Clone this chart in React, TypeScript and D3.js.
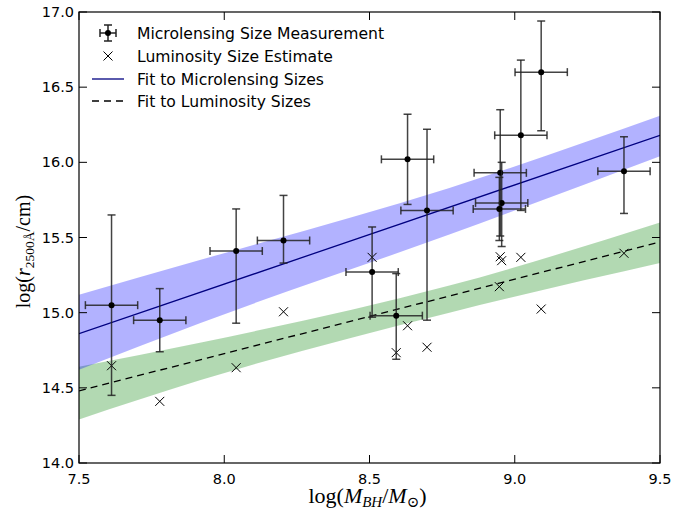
import React from "react";
import * as d3 from "d3";

// Microlensing size measurements
const mlX = [7.612, 7.778, 8.041, 8.204, 8.509, 8.592, 8.631, 8.698, 8.95, 8.955, 8.947, 9.021, 9.091, 9.376];
const mlY = [15.05, 14.95, 15.41, 15.48, 15.27, 14.98, 16.02, 15.68, 15.93, 15.73, 15.69, 16.18, 16.6, 15.94];
const mlYErrLo = [0.6, 0.21, 0.48, 0.15, 0.3, 0.29, 0.3, 0.73, 0.42, 0.29, 0.21, 0.5, 0.39, 0.28];
const mlYErrHi = [0.6, 0.21, 0.28, 0.3, 0.3, 0.28, 0.3, 0.54, 0.42, 0.27, 0.21, 0.5, 0.34, 0.23];
const mlXErr = [0.09, 0.09, 0.09, 0.09, 0.09, 0.09, 0.09, 0.09, 0.09, 0.09, 0.09, 0.09, 0.09, 0.09];

// Luminosity size estimates
const lumX = [7.612, 7.778, 8.041, 8.204, 8.509, 8.592, 8.631, 8.698, 8.95, 8.955, 8.947, 9.021, 9.091, 9.376];
const lumY = [14.647, 14.41, 14.634, 15.006, 15.368, 14.734, 14.913, 14.77, 15.372, 15.346, 15.173, 15.368, 15.024, 15.395];

// Fits (endpoints) and confidence bands
const fitX = [7.5, 9.5];
const mlFitY = [14.86, 16.18];
const lumFitY = [14.48, 15.47];
const bandX = [7.5, 7.916, 8.775, 9.5];
const mlBandHi = [15.12, 15.35, 15.83, 16.31];
const mlBandLo = [14.62, 14.93, 15.52, 16.04];
const lumBandHi = [14.64, 14.8, 15.18, 15.6];
const lumBandLo = [14.29, 14.55, 15.0, 15.33];

const xTicks = [7.5, 8.0, 8.5, 9.0, 9.5];
const yTicks = [14.0, 14.5, 15.0, 15.5, 16.0, 16.5, 17.0];

const W = 691;
const H = 510;
const L = 79, R = 660, T = 12, B = 463;

export default function App() {
  const x = d3.scaleLinear().domain([7.5, 9.5]).range([L, R]);
  const y = d3.scaleLinear().domain([14, 17]).range([B, T]);

  const band = (hi: number[], lo: number[]) =>
    d3
      .area<number>()
      .curve(d3.curveMonotoneX)
      .x((_, i) => x(bandX[i]))
      .y0((_, i) => y(lo[i]))
      .y1((_, i) => y(hi[i]))(bandX) || "";

  const line = (ys: number[]) =>
    d3
      .line<number>()
      .x((d) => x(d))
      .y((_, i) => y(ys[i]))(fitX) || "";

  const cap = 4;
  const ecol = "#222";
  const font = "'DejaVu Sans', sans-serif";
  const serif = "'Liberation Serif', 'DejaVu Serif', serif";

  const cross = (cx: number, cy: number, s: number, key: string) => (
    <g key={key} stroke="#000" strokeWidth={1}>
      <line x1={cx - s} y1={cy - s} x2={cx + s} y2={cy + s} />
      <line x1={cx - s} y1={cy + s} x2={cx + s} y2={cy - s} />
    </g>
  );

  return (
    <div style={{ position: "absolute", left: 0, top: 0 }}>
      <svg width={W} height={H} style={{ display: "block", background: "#fff" }}>
        <rect x={0} y={0} width={W} height={H} fill="#fff" />
        <defs>
          <clipPath id="plot">
            <rect x={L} y={T} width={R - L} height={B - T} />
          </clipPath>
        </defs>
        <g clipPath="url(#plot)">
          <path d={band(lumBandHi, lumBandLo)} fill="rgb(0,128,0)" fillOpacity={0.3} />
          <path d={band(mlBandHi, mlBandLo)} fill="rgb(0,0,255)" fillOpacity={0.3} />
          <path d={line(mlFitY)} stroke="#000080" strokeWidth={1.3} fill="none" />
          <path d={line(lumFitY)} stroke="#000" strokeWidth={1.3} fill="none" strokeDasharray="7,5" />
          {lumX.map((v, i) => cross(x(v), y(lumY[i]), 4.5, "l" + i))}
          {mlX.map((v, i) => {
            const cx = x(v);
            const cy = y(mlY[i]);
            const x0 = x(v - mlXErr[i]);
            const x1 = x(v + mlXErr[i]);
            const y0 = y(mlY[i] - mlYErrLo[i]);
            const y1 = y(mlY[i] + mlYErrHi[i]);
            return (
              <g key={"m" + i} stroke={ecol} strokeWidth={1.5} strokeOpacity={0.85}>
                <line x1={cx} y1={y0} x2={cx} y2={y1} />
                <line x1={x0} y1={cy} x2={x1} y2={cy} />
                <line x1={cx - cap} y1={y0} x2={cx + cap} y2={y0} />
                <line x1={cx - cap} y1={y1} x2={cx + cap} y2={y1} />
                <line x1={x0} y1={cy - cap} x2={x0} y2={cy + cap} />
                <line x1={x1} y1={cy - cap} x2={x1} y2={cy + cap} />
                <circle cx={cx} cy={cy} r={3} fill="#000" stroke="none" />
              </g>
            );
          })}
        </g>

        {/* Frame */}
        <rect x={L} y={T} width={R - L} height={B - T} fill="none" stroke="#000" strokeWidth={1.2} />

        {/* Ticks */}
        {xTicks.map((t) => (
          <g key={"xt" + t}>
            <line x1={x(t)} x2={x(t)} y1={B} y2={B - 8} stroke="#000" />
            <line x1={x(t)} x2={x(t)} y1={T} y2={T + 8} stroke="#000" />
            <text x={x(t)} y={B + 21} textAnchor="middle" fontFamily={font} fontSize={14.5}>
              {t.toFixed(1)}
            </text>
          </g>
        ))}
        {yTicks.map((t) => (
          <g key={"yt" + t}>
            <line x1={L} x2={L + 8} y1={y(t)} y2={y(t)} stroke="#000" />
            <line x1={R} x2={R - 8} y1={y(t)} y2={y(t)} stroke="#000" />
            <text x={L - 5} y={y(t) + 5} textAnchor="end" fontFamily={font} fontSize={14.5}>
              {t.toFixed(1)}
            </text>
          </g>
        ))}

        {/* Axis labels */}
        <text x={(L + R) / 2 - 2} y={503} textAnchor="middle" fontFamily={serif} fontSize={22}>
          log(<tspan fontStyle="italic">M</tspan>
          <tspan fontStyle="italic" fontSize={15} dy={4}>BH</tspan>
          <tspan dy={-4}>/</tspan>
          <tspan fontStyle="italic">M</tspan>
          <tspan fontSize={15} dy={4}>⊙</tspan>
          <tspan dy={-4}>)</tspan>
        </text>
        <text
          transform={`translate(30,${(T + B) / 2 + 14}) rotate(-90)`}
          textAnchor="middle"
          fontFamily={serif}
          fontSize={20}
        >
          log(<tspan fontStyle="italic">r</tspan>
          <tspan fontSize={13.5} dy={4}>2500Å</tspan>
          <tspan dy={-4}>/cm)</tspan>
        </text>

        {/* Legend */}
        <g fontFamily={font} fontSize={15.6}>
          <g stroke={ecol} strokeWidth={1.5}>
            <line x1={108} x2={108} y1={25} y2={41} />
            <line x1={100} x2={116} y1={33} y2={33} />
            <line x1={104} x2={112} y1={25} y2={25} />
            <line x1={104} x2={112} y1={41} y2={41} />
            <line x1={100} x2={100} y1={29} y2={37} />
            <line x1={116} x2={116} y1={29} y2={37} />
            <circle cx={108} cy={33} r={3} fill="#000" stroke="none" />
          </g>
          <text x={137} y={38.5}>Microlensing Size Measurement</text>
          {cross(108, 56, 4.5, "legc")}
          <text x={137} y={61.5}>Luminosity Size Estimate</text>
          <line x1={92} x2={124} y1={79} y2={79} stroke="#000080" strokeWidth={1.3} />
          <text x={137} y={84.5}>Fit to Microlensing Sizes</text>
          <line x1={92} x2={124} y1={101} y2={101} stroke="#000" strokeWidth={1.3} strokeDasharray="7,5" />
          <text x={137} y={106.5}>Fit to Luminosity Sizes</text>
        </g>
      </svg>
    </div>
  );
}
